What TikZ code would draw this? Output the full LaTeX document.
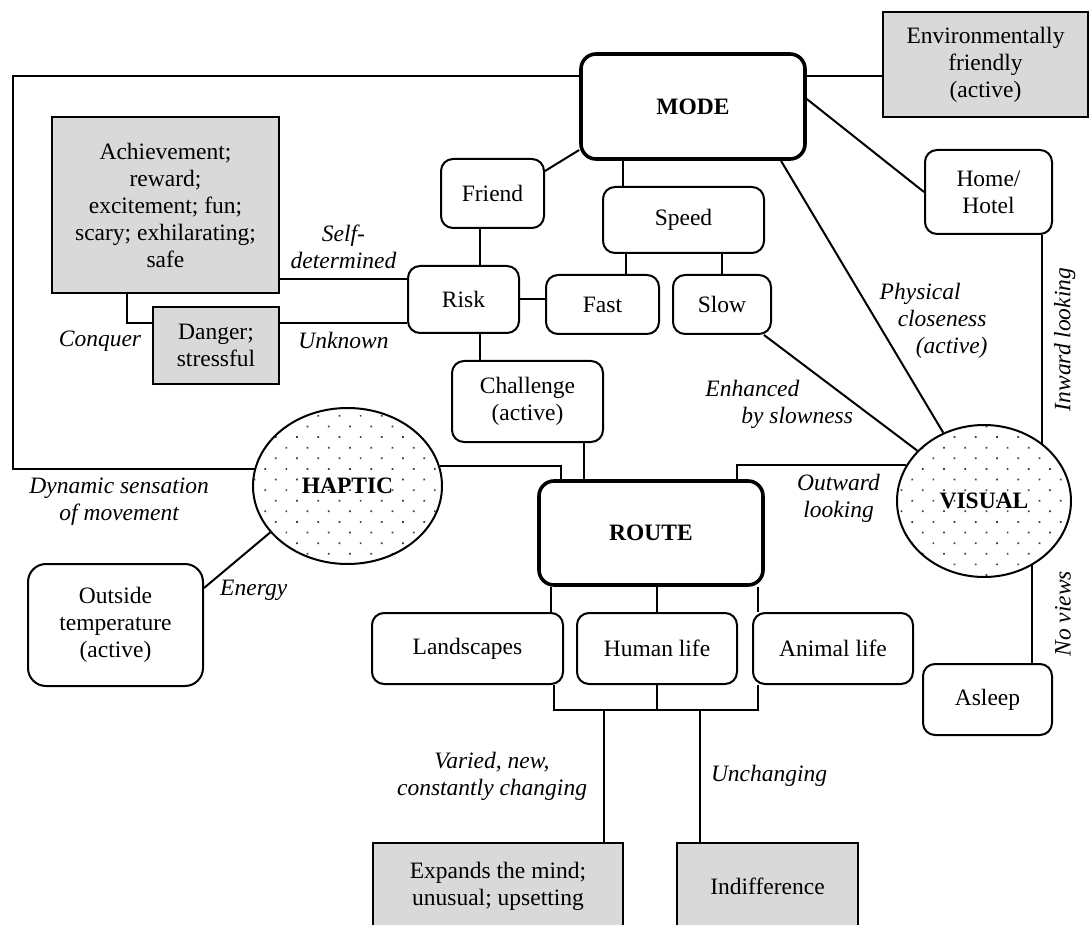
\documentclass[tikz,border=0pt]{standalone}
\usepackage{fontspec}
\setmainfont{Liberation Serif}
\usetikzlibrary{positioning, shapes.geometric, patterns.meta}

\begin{document}
\begin{tikzpicture}[x=1pt, y=-1pt, line width=2pt,
		every node/.style={font=\fontsize{23.5}{27}\selectfont, align=center, inner sep=0pt},
		box/.style={draw, rounded corners=12pt},
		grey/.style={draw, fill=gray!30},
		main/.style={draw, line width=3.6pt, rounded corners=15pt, font=\fontsize{23.5}{27}\selectfont\bfseries},
		sense/.style={ellipse, draw, pattern={Dots[distance=15pt, radius=1.2pt, angle=45]}, pattern color=black!75, font=\fontsize{23.5}{27}\selectfont\bfseries},
		lbl/.style={font=\fontsize{23.5}{27}\selectfont\itshape, inner sep=2pt}]
			\useasboundingbox (0,0) rectangle (1090,925);
			% nodos
			\node [main, minimum width=224pt, minimum height=105pt] (mode) at (693,106.5) {MODE};
			\node [grey, minimum width=205pt, minimum height=105pt] (env) at (985.5,64.5) {Environmentally\\friendly\\(active)};
			\node [grey, minimum width=227pt, minimum height=176pt] (achieve) at (165.5,205) {Achievement;\\reward;\\excitement; fun;\\scary; exhilarating;\\safe};
			\node [grey, minimum width=126pt, minimum height=77pt] (danger) at (216,345.5) {Danger;\\stressful};
			\node [box, minimum width=103pt, minimum height=69pt] (friend) at (492.5,193.5) {Friend};
			\node [box, minimum width=161pt, minimum height=66pt] (speed) at (683.5,220) {Speed};
			\node [box, minimum width=111pt, minimum height=67pt] (risk) at (463.5,299.5) {Risk};
			\node [box, minimum width=113pt, minimum height=59pt] (fast) at (602.5,304.5) {Fast};
			\node [box, minimum width=98pt, minimum height=59pt] (slow) at (722,304.5) {Slow};
			\node [box, minimum width=151pt, minimum height=81pt] (challenge) at (527.5,401.5) {Challenge\\(active)};
			\node [box, minimum width=127pt, minimum height=84pt] (home) at (988.5,192) {Home/\\Hotel};
			\node [sense, minimum width=189pt, minimum height=156pt] (haptic) at (347.5,486) {HAPTIC};
			\node [sense, minimum width=174pt, minimum height=152pt] (visual) at (984,501) {VISUAL};
			\node [main, minimum width=224pt, minimum height=104pt] (route) at (651,533) {ROUTE};
			\node [box, rounded corners=18pt, minimum width=175pt, minimum height=122pt] (outside) at (115.5,625) {Outside\\temperature\\(active)};
			\node [box, minimum width=191pt, minimum height=71pt] (land) at (467.5,648.5) {Landscapes};
			\node [box, minimum width=160pt, minimum height=71pt] (human) [right=12pt of land] {Human life};
			\node [box, minimum width=160pt, minimum height=71pt] (animal) [right=14pt of human] {Animal life};
			\node [box, minimum width=129pt, minimum height=71pt] (asleep) at (987.5,699.5) {Asleep};
			\node [grey, minimum width=250pt, minimum height=86pt] (expands) at (498,886) {Expands the mind;\\unusual; upsetting};
			\node [grey, minimum width=181pt, minimum height=86pt] (indiff) at (767.5,886) {Indifference};
			
			% conexiones
			\coordinate (ftop) at (12.7,76);
			\coordinate (fbot) at (12.7,469);
			\draw ([yshift=30.5pt]mode.west) -- (ftop) -- (fbot) -- node[lbl, pos=.44, below=6pt] {Dynamic sensation\\of movement} (fbot -| haptic.169.6);
			\draw ([yshift=30.5pt]mode.east) -- ([yshift=30.5pt]mode.east -| env.west);
			\draw ([yshift=-43.5pt]mode.west) -- ([yshift=22.5pt]friend.east);
			\draw ([xshift=-60.5pt]speed.north) -- ([xshift=-60.5pt]speed.north |- mode.south);
			\draw ([xshift=23.5pt]fast.north) -- ([xshift=23.5pt]fast.north |- speed.south);
			\draw (slow.north) -- (slow.north |- speed.south);
			\draw ([xshift=16.5pt]risk.north) -- ([xshift=16.5pt]risk.north |- friend.south);
			\draw ([xshift=16.5pt]risk.south) -- ([xshift=16.5pt]risk.south |- challenge.north);
			\draw (risk.east) -- (risk.east -| fast.west);
			\draw ([yshift=-74pt]achieve.east) -- node[lbl, above=7pt] {Self-\\determined} ([yshift=-74pt]achieve.east -| risk.west);
			\draw ([yshift=22.5pt]danger.east) -- node[lbl, below=6pt] {Unknown} ([yshift=22.5pt]danger.east -| risk.west);
			\draw ([xshift=-38.5pt]achieve.south) |- node[lbl, pos=.5, below=5pt, xshift=-27pt] {Conquer} ([yshift=22.5pt]danger.west);
			\draw ([xshift=56.5pt]challenge.south) -- ([xshift=56.5pt]challenge.south |- route.north);
			\draw (haptic.12.4) -| ([xshift=24pt]route.north west);
			\draw (visual.155.6) -| node[lbl, pos=.2, below=6pt] {Outward\\looking} ([xshift=-28pt]route.north east);
			\draw ([yshift=7.5pt]mode.east) -- (home.west);
			\draw ([xshift=88pt]mode.south) -- node[lbl, pos=.59, anchor=west, align=left] {Physical\\\hspace*{18pt}closeness\\\hspace*{36pt}(active)} (visual);
			\draw ([xshift=-8pt]slow.south east) -- node[lbl, pos=.6, anchor=east, align=left] {Enhanced\\\hspace*{36pt}by slowness} (visual);
			\draw ([xshift=53.5pt]home.south) -- node[lbl, midway, anchor=north, xshift=9pt, rotate=90] {Inward looking} ([xshift=53.5pt]home.south |- visual.44.3);
			\draw ([xshift=44.5pt]asleep.north) -- node[lbl, midway, anchor=north, xshift=20pt, rotate=90] {No views} ([xshift=44.5pt]asleep.north |- visual.-52.9);
			\draw ([yshift=37pt]outside.east) -- node[lbl, pos=.2, anchor=north west] {Energy} (haptic.211.2);
			\draw ([xshift=14pt]route.south west) -- ([xshift=14pt]route.south west |- land.north);
			\draw (human.north) -- (human.north |- route.south);
			\draw ([xshift=6pt]animal.north west) -- ([xshift=6pt]animal.north west |- route.south);
			\draw ([xshift=-10pt]land.south east) -- ++(0,25) -| ([xshift=6pt]animal.south west);
			\draw (human.south) -- ++(0,25) coordinate (hub);
			\draw ([xshift=-20pt]expands.north east) -- node[lbl, left=14pt] {Varied, new,\\constantly changing} ([xshift=-20pt]expands.north east |- hub);
			\draw ([xshift=24pt]indiff.north west) -- node[lbl, right=8pt] {Unchanging} ([xshift=24pt]indiff.north west |- hub);
\end{tikzpicture}
\end{document}
